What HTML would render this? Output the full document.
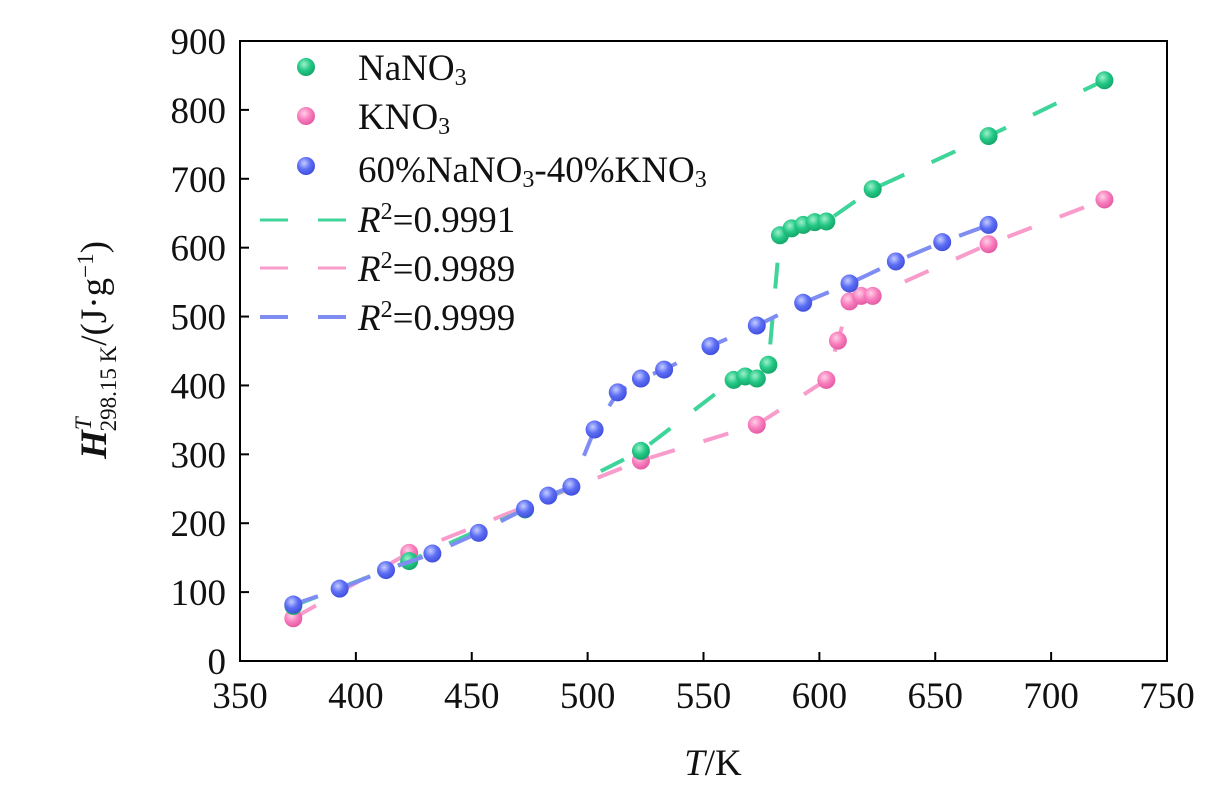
<!DOCTYPE html>
<html><head><meta charset="utf-8"><style>
body{margin:0;background:#fff;}
svg text{font-family:"Liberation Serif",serif;fill:#111;}
</style></head><body>
<svg id="chart" width="1221" height="787" viewBox="0 0 1221 787" xmlns="http://www.w3.org/2000/svg">
<defs>
<radialGradient id="gG" cx="0.4" cy="0.35" r="0.7"><stop offset="0" stop-color="#9ff0cc"/><stop offset="0.5" stop-color="#25c987"/><stop offset="1" stop-color="#12a266"/></radialGradient>
<radialGradient id="gP" cx="0.4" cy="0.35" r="0.7"><stop offset="0" stop-color="#ffd0e8"/><stop offset="0.5" stop-color="#f97fbe"/><stop offset="1" stop-color="#e0559f"/></radialGradient>
<radialGradient id="gB" cx="0.4" cy="0.35" r="0.7"><stop offset="0" stop-color="#c5cdff"/><stop offset="0.5" stop-color="#5d6ef5"/><stop offset="1" stop-color="#3c4bd8"/></radialGradient>
</defs>
<g id="plot"></g>
<rect x="240" y="41" width="927" height="620" fill="none" stroke="#000" stroke-width="2"/>
<g id="axes"></g>
<text transform="translate(106,350) rotate(-90)" text-anchor="middle" font-size="37"><tspan font-style="italic" font-weight="bold">H</tspan><tspan font-size="23" font-style="italic" dy="-15">T</tspan><tspan font-size="23" dx="-14" dy="25">298.15 K</tspan><tspan dy="-10">/(J·g</tspan><tspan font-size="23" dy="-13">−1</tspan><tspan dy="13">)</tspan></text>
<text x="713" y="775" text-anchor="middle" font-size="37"><tspan font-style="italic">T</tspan>/K</text>
<g font-size="37">
<circle cx="306" cy="67" r="9" fill="url(#gG)"/>
<text x="358" y="80">NaNO<tspan font-size="24" dy="5">3</tspan></text>
<circle cx="306" cy="116" r="9" fill="url(#gP)"/>
<text x="358" y="129">KNO<tspan font-size="24" dy="5">3</tspan></text>
<circle cx="306" cy="166" r="9" fill="url(#gB)"/>
<text x="358" y="182">60%NaNO<tspan font-size="24" dy="5">3</tspan><tspan dy="-5">-40%KNO</tspan><tspan font-size="24" dy="5">3</tspan></text>
<line x1="260" y1="220" x2="348" y2="220" stroke="#3fd59a" stroke-width="3" stroke-dasharray="28,30"/>
<text x="358" y="232"><tspan font-style="italic">R</tspan><tspan font-size="24" dy="-13">2</tspan><tspan dy="13">=0.9991</tspan></text>
<line x1="260" y1="268" x2="348" y2="268" stroke="#f79ccb" stroke-width="3" stroke-dasharray="28,30"/>
<text x="358" y="281"><tspan font-style="italic">R</tspan><tspan font-size="24" dy="-13">2</tspan><tspan dy="13">=0.9989</tspan></text>
<line x1="260" y1="317" x2="348" y2="317" stroke="#7f8cf2" stroke-width="4" stroke-dasharray="28,30"/>
<text x="358" y="330"><tspan font-style="italic">R</tspan><tspan font-size="24" dy="-13">2</tspan><tspan dy="13">=0.9999</tspan></text>
</g>
</svg>
<script>
const xTicks=[350,400,450,500,550,600,650,700,750];
const yTicks=[0,100,200,300,400,500,600,700,800,900];
const naT=[373,423,473,523,563,568,573,578,583,588,593,598,603,623,673,723];
const naH=[80,145,220,305,408,413,410,430,618,628,633,637,638,685,762,843];
const kT=[373,423,523,573,603,608,613,618,623,673,723];
const kH=[62,157,291,343,408,465,522,530,530,605,670];
const mT=[373,393,413,433,453,473,483,493,503,513,523,533,553,573,593,613,633,653,673];
const mH=[82,105,132,156,186,221,240,253,336,390,410,423,457,487,520,548,580,608,633];
const X=t=>240+(t-350)*927/400;
const Y=h=>661-h*620/900;
const NS='http://www.w3.org/2000/svg';
const plot=document.getElementById('plot'),axes=document.getElementById('axes');
function mk(tag,attrs,parent){const e=document.createElementNS(NS,tag);for(const k in attrs)e.setAttribute(k,attrs[k]);parent.appendChild(e);return e;}
xTicks.forEach(v=>{
  const l=mk('line',{x1:X(v),x2:X(v),y1:661,y2:652,stroke:'#000','stroke-width':2},axes);
  
  
  const t=mk('text',{x:X(v),y:708,'text-anchor':'middle','font-size':37},axes);t.textContent=v;
  
  
});
yTicks.forEach(v=>{
  const l=mk('line',{x1:240,x2:249,y1:Y(v),y2:Y(v),stroke:'#000','stroke-width':2},axes);
  
  
  const t=mk('text',{x:226,y:Y(v)+13,'text-anchor':'end','font-size':37},axes);t.textContent=v;
  
  
});
function series(T,H,lc,fill,name){
  const pts=T.map((t,i)=>X(t)+','+Y(H[i])).join(' ');
  const pl=mk('polyline',{points:pts,fill:'none',stroke:lc,'stroke-width':4,'stroke-dasharray':'26,30'},plot);
  
  
  T.forEach((t,i)=>{
    const c=mk('circle',{cx:X(t),cy:Y(H[i]),r:9,fill:fill},plot);
    
    
  });
}
series(kT,kH,'#f79ccb','url(#gP)','kno3');
series(naT,naH,'#3fd59a','url(#gG)','nano3');
series(mT,mH,'#7f8cf2','url(#gB)','mix');
</script>
</body></html>
